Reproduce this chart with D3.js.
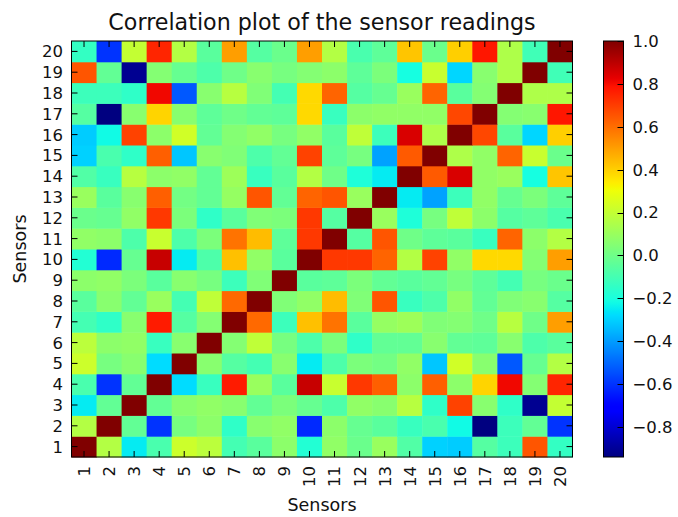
<!DOCTYPE html>
<html>
<head>
<meta charset="utf-8">
<script src="https://cdn.jsdelivr.net/npm/d3@7"></script>
<style>
  html, body { margin: 0; padding: 0; background: #fff; }
  text { font-family: "DejaVu Sans", sans-serif; fill: #111; }
</style>
</head>
<body>
<svg id="chart" width="678" height="517"></svg>
<script>
// Sensor labels (1..20) used on both axes
const sensors = d3.range(1, 21);
const tickLabels = sensors.map(String);
const colorbarTicks = [-0.8, -0.6, -0.4, -0.2, 0.0, 0.2, 0.4, 0.6, 0.8, 1.0];

// Correlation matrix: corr[i][j] = correlation of sensor i+1 (row) with sensor j+1 (column)
const corr = [
  [ 1.00, 0.16,-0.25,-0.09, 0.22, 0.18,-0.10,-0.05, 0.07,-0.18, 0.08,-0.01, 0.10,-0.07,-0.30,-0.31,-0.06,-0.12, 0.65,-0.14],
  [ 0.16, 1.00,-0.03,-0.60, 0.02, 0.07,-0.15, 0.06, 0.08,-0.62, 0.07,-0.02,-0.05,-0.13,-0.09,-0.22,-0.94,-0.12,-0.03,-0.60],
  [-0.25,-0.03, 1.00,-0.03, 0.06, 0.08, 0.06,-0.03, 0.03,-0.02,-0.08, 0.08, 0.06, 0.17,-0.15, 0.69, 0.06,-0.15,-0.91, 0.20],
  [-0.09,-0.60,-0.03, 1.00,-0.28,-0.13, 0.77, 0.10,-0.05, 0.88, 0.21, 0.71, 0.63, 0.07, 0.63, 0.07, 0.39, 0.81, 0.05, 0.75],
  [ 0.22, 0.02, 0.06,-0.28, 1.00, 0.06,-0.06,-0.10, 0.06,-0.25,-0.08, 0.03, 0.01, 0.08,-0.32, 0.23, 0.06,-0.53,-0.02, 0.16],
  [ 0.18, 0.07, 0.08,-0.13, 0.06, 1.00, 0.05, 0.19, 0.02,-0.08, 0.03,-0.15,-0.03,-0.03, 0.06,-0.03,-0.04, 0.06,-0.08,-0.05],
  [-0.10,-0.15, 0.06, 0.77,-0.06, 0.05, 1.00, 0.61,-0.12, 0.43, 0.59,-0.05, 0.09, 0.11, 0.04, 0.05, 0.00, 0.17, 0.00, 0.50],
  [-0.05, 0.06,-0.03, 0.10,-0.10, 0.19, 0.61, 1.00, 0.04, 0.08, 0.44, 0.04, 0.65,-0.13,-0.08, 0.08,-0.03, 0.04, 0.06,-0.06],
  [ 0.07, 0.08, 0.03,-0.05, 0.06, 0.02,-0.12, 0.04, 1.00,-0.05,-0.04, 0.03,-0.03,-0.05,-0.03, 0.02,-0.04,-0.10, 0.02,-0.01],
  [-0.18,-0.62,-0.02, 0.88,-0.25,-0.08, 0.43, 0.08,-0.05, 1.00, 0.71, 0.71, 0.62, 0.16, 0.69, 0.08, 0.38, 0.38, 0.05, 0.50],
  [ 0.08, 0.07,-0.08, 0.21,-0.08, 0.03, 0.59, 0.44,-0.04, 0.71, 1.00,-0.06, 0.65, 0.00,-0.04,-0.05,-0.13, 0.62, 0.07, 0.16],
  [-0.01,-0.02, 0.08, 0.71, 0.03,-0.15,-0.05, 0.04, 0.03, 0.71,-0.06, 1.00, 0.10,-0.19, 0.02, 0.19, 0.07,-0.06,-0.04,-0.09],
  [ 0.10,-0.05, 0.06, 0.63, 0.01,-0.03, 0.09, 0.65,-0.03, 0.62, 0.65, 0.10, 1.00,-0.25,-0.39,-0.12, 0.08,-0.02, 0.03,-0.04],
  [-0.07,-0.13, 0.17, 0.07, 0.08,-0.03, 0.11,-0.13,-0.05, 0.16, 0.00,-0.19,-0.25, 1.00, 0.64, 0.85, 0.08, 0.10,-0.21, 0.42],
  [-0.30,-0.09,-0.15, 0.63,-0.32, 0.06, 0.04,-0.08,-0.03, 0.69,-0.04, 0.02,-0.39, 0.64, 1.00, 0.15, 0.08, 0.62, 0.21,-0.01],
  [-0.31,-0.22, 0.69, 0.07, 0.23,-0.03, 0.05, 0.08, 0.02, 0.08,-0.05, 0.19,-0.12, 0.85, 0.15, 1.00, 0.68,-0.05,-0.29, 0.40],
  [-0.06,-0.94, 0.06, 0.39, 0.06,-0.04, 0.00,-0.03,-0.04, 0.38,-0.13, 0.07, 0.08, 0.08, 0.08, 0.68, 1.00, 0.05, 0.06, 0.78],
  [-0.12,-0.12,-0.15, 0.81,-0.53, 0.06, 0.17, 0.04,-0.10, 0.38, 0.62,-0.06,-0.02, 0.10, 0.62,-0.05, 0.05, 1.00, 0.15, 0.15],
  [ 0.65,-0.03,-0.91, 0.05,-0.02,-0.08, 0.00, 0.06, 0.02, 0.05, 0.07,-0.04, 0.03,-0.21, 0.21,-0.29, 0.06, 0.15, 1.00,-0.11],
  [-0.14,-0.60, 0.20, 0.75, 0.16,-0.05, 0.50,-0.06,-0.01, 0.50, 0.16,-0.09,-0.04, 0.42,-0.01, 0.40, 0.78, 0.15,-0.11, 1.00]
];

// Colour range spans the data extent
const vmin = d3.min(corr.flat());
const vmax = d3.max(corr.flat());

// "jet" colour map built from piecewise-linear channels
const red   = d3.scaleLinear().domain([0, 0.35, 0.66, 0.89, 1]).range([0, 0, 1, 1, 0.5]).clamp(true);
const green = d3.scaleLinear().domain([0, 0.125, 0.375, 0.64, 0.91, 1]).range([0, 0, 1, 1, 0, 0]).clamp(true);
const blue  = d3.scaleLinear().domain([0, 0.11, 0.34, 0.65, 1]).range([0.5, 1, 1, 0, 0]).clamp(true);
const norm = d3.scaleLinear().domain([vmin, vmax]).range([0, 1]).clamp(true);
const jet = v => {
  const t = norm(v);
  return d3.rgb(Math.round(red(t) * 255), Math.round(green(t) * 255), Math.round(blue(t) * 255)).toString();
};

const svg = d3.select("#chart");
const plotLeft = 71.5, plotRight = 572.5, plotTop = 41, plotBottom = 457;
const tickLen = 6;
const fontTick = 16.5;

const x = d3.scaleBand().domain(sensors).range([plotLeft, plotRight]);
const y = d3.scaleBand().domain(sensors).range([plotBottom, plotTop]);

// Heatmap cells
const cells = [];
corr.forEach((row, i) => row.forEach((v, j) => cells.push({ r: sensors[i], c: sensors[j], v })));
svg.append("g")
  .selectAll("rect")
  .data(cells)
  .join("rect")
  .attr("x", d => x(d.c))
  .attr("y", d => y(d.r))
  .attr("width", x.bandwidth() + 0.5)
  .attr("height", y.bandwidth() + 0.5)
  .attr("fill", d => jet(d.v));

// Axes frame
svg.append("rect")
  .attr("x", plotLeft).attr("y", plotTop)
  .attr("width", plotRight - plotLeft).attr("height", plotBottom - plotTop)
  .attr("fill", "none").attr("stroke", "#000").attr("stroke-width", 1);

// Inward ticks on all four sides
const ticks = svg.append("g").attr("stroke", "#000").attr("stroke-width", 1);
sensors.forEach(s => {
  const cx = x(s) + x.bandwidth() / 2;
  const cy = y(s) + y.bandwidth() / 2;
  ticks.append("line").attr("x1", cx).attr("x2", cx).attr("y1", plotBottom).attr("y2", plotBottom - tickLen);
  ticks.append("line").attr("x1", cx).attr("x2", cx).attr("y1", plotTop).attr("y2", plotTop + tickLen);
  ticks.append("line").attr("y1", cy).attr("y2", cy).attr("x1", plotLeft).attr("x2", plotLeft + tickLen);
  ticks.append("line").attr("y1", cy).attr("y2", cy).attr("x1", plotRight).attr("x2", plotRight - tickLen);
});

// Y tick labels
svg.append("g")
  .selectAll("text")
  .data(sensors)
  .join("text")
  .attr("x", plotLeft - 8.5)
  .attr("y", d => y(d) + y.bandwidth() / 2)
  .attr("dy", "0.36em")
  .attr("text-anchor", "end")
  .attr("font-size", fontTick)
  .text((d, i) => tickLabels[i]);

// X tick labels, vertical
svg.append("g")
  .selectAll("text")
  .data(sensors)
  .join("text")
  .attr("transform", d => `translate(${x(d) + x.bandwidth() / 2},${plotBottom + 9}) rotate(-90)`)
  .attr("dy", "0.36em")
  .attr("text-anchor", "end")
  .attr("font-size", fontTick)
  .text((d, i) => tickLabels[i]);

// Title and axis labels
svg.append("text")
  .attr("x", (plotLeft + plotRight) / 2).attr("y", 30)
  .attr("text-anchor", "middle")
  .attr("font-size", 22.2)
  .text("Correlation plot of the sensor readings");

svg.append("text")
  .attr("x", (plotLeft + plotRight) / 2).attr("y", 511)
  .attr("text-anchor", "middle")
  .attr("font-size", 17.5)
  .text("Sensors");

svg.append("text")
  .attr("transform", `translate(26,${(plotTop + plotBottom) / 2}) rotate(-90)`)
  .attr("text-anchor", "middle")
  .attr("font-size", 17.5)
  .text("Sensors");

// Colour bar
const cbLeft = 603.5, cbRight = 623.5;
const cbY = d3.scaleLinear().domain([vmin, vmax]).range([plotBottom, plotTop]);
const grad = svg.append("defs").append("linearGradient")
  .attr("id", "jetGrad").attr("x1", 0).attr("y1", 1).attr("x2", 0).attr("y2", 0);
d3.range(0, 1.0001, 0.01).forEach(t => {
  grad.append("stop")
    .attr("offset", t)
    .attr("stop-color", jet(vmin + t * (vmax - vmin)));
});
svg.append("rect")
  .attr("x", cbLeft).attr("y", plotTop)
  .attr("width", cbRight - cbLeft).attr("height", plotBottom - plotTop)
  .attr("fill", "url(#jetGrad)")
  .attr("stroke", "#000").attr("stroke-width", 1);

const cbAxis = svg.append("g");
cbAxis.selectAll("line")
  .data(colorbarTicks)
  .join("line")
  .attr("x1", cbRight).attr("x2", cbRight - tickLen)
  .attr("y1", d => Math.round(cbY(d)) + 0.5).attr("y2", d => Math.round(cbY(d)) + 0.5)
  .attr("stroke", "#000");
const fmt = d3.format(".1f");
cbAxis.selectAll("text")
  .data(colorbarTicks)
  .join("text")
  .attr("x", cbRight + 9)
  .attr("y", d => cbY(d))
  .attr("dy", "0.36em")
  .attr("font-size", fontTick)
  .text(d => fmt(d).replace("-", "\u2212"));
</script>
</body>
</html>
